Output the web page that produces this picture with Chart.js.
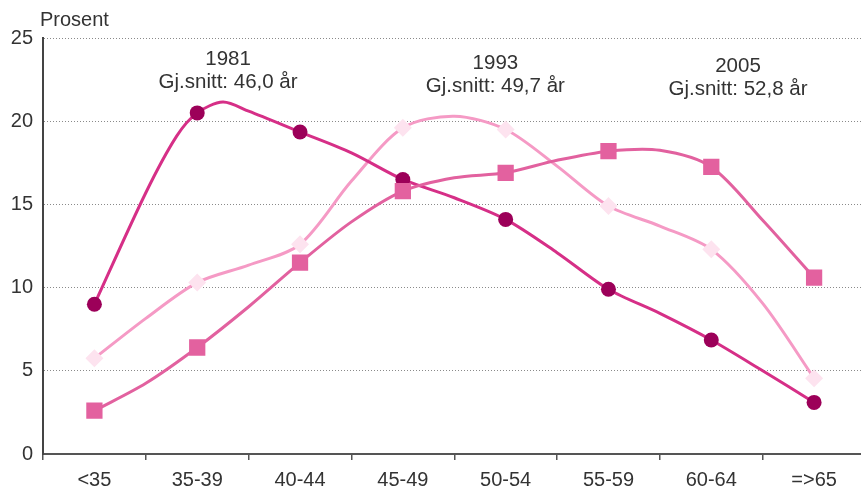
<!DOCTYPE html>
<html>
<head>
<meta charset="utf-8">
<script src="https://cdn.jsdelivr.net/npm/chart.js@4.4.1/dist/chart.umd.min.js"></script>
<style>
    html, body { margin: 0; padding: 0; overflow: hidden; background: #fff; }
    .chart-box { width: 877px; height: 490px; }
</style>
</head>
<body>
<div class="chart-box"><canvas id="ageChart"></canvas></div>
<script>
const categories = ['<35', '35-39', '40-44', '45-49', '50-54', '55-59', '60-64', '=>65']

// values at the age groups (the markers)
const marks1981 = [9.0, 20.5, 19.35, 16.5, 14.1, 9.9, 6.85, 3.1]
const marks1993 = [5.75, 10.3, 12.6, 19.6, 19.5, 14.9, 12.3, 4.55]
const marks2005 = [2.6, 6.4, 11.5, 15.8, 16.9, 18.2, 17.25, 10.6]

// the finer curves (x = position in age groups)
const trace1981X = [0, 0.5, 0.8, 1, 1.25, 1.5, 2, 2.5, 3, 3.5, 4, 4.5, 5, 5.5, 6, 6.5, 7]
const trace1981 = [9.0, 15.7, 19.1, 20.5, 21.15, 20.6, 19.35, 18.1, 16.5, 15.4, 14.1, 12.1, 9.9, 8.45, 6.85, 5.0, 3.1]
const traceX = [0, 0.5, 1, 1.5, 2, 2.5, 3, 3.5, 4, 4.5, 5, 5.5, 6, 6.5, 7]
const trace1993 = [5.75, 8.15, 10.3, 11.35, 12.6, 16.4, 19.6, 20.3, 19.5, 17.3, 14.9, 13.7, 12.3, 9.05, 4.55]
const trace2005 = [2.6, 4.25, 6.4, 8.85, 11.5, 13.95, 15.8, 16.6, 16.9, 17.65, 18.2, 18.25, 17.25, 14.05, 10.6]

const yearLabels = ['1981', '1993', '2005']
const meanLabels = ['Gj.snitt: 46,0 år', 'Gj.snitt: 49,7 år', 'Gj.snitt: 52,8 år']

const FONT = '"Liberation Sans", Arial, sans-serif'
const TEXT = '#333333'

function toPoints(xs, ys) {
    return xs.map(function (x, i) { return { x: x, y: ys[i] } })
}

const textPlugin = {
    id: 'textPlugin',
    afterDraw: function (chart) {
        const ctx = chart.ctx
        const xs = chart.scales.x2
        const ys = chart.scales.y
        const anchors = [[1.3, 23.7], [3.9, 23.5], [6.26, 23.3]]
        ctx.save()
        ctx.fillStyle = TEXT
        ctx.font = '20px ' + FONT
        ctx.textBaseline = 'middle'
        ctx.textAlign = 'left'
        ctx.fillText('Prosent', 40, 20)
        ctx.textAlign = 'center'
        ctx.font = '20.5px ' + FONT
        anchors.forEach(function (a, i) {
            const px = xs.getPixelForValue(a[0])
            const py = ys.getPixelForValue(a[1])
            ctx.fillText(yearLabels[i], px, py)
            ctx.fillText(meanLabels[i], px, py + 23)
        })
        ctx.restore()
    }
}

const lineStyle = function (color, order) {
    return {
        type: 'line',
        xAxisID: 'x2',
        borderColor: color,
        borderWidth: 3,
        pointRadius: 0,
        tension: 0.3,
        fill: false,
        order: order
    }
}

const markStyle = function (color, shape, radius, order) {
    return {
        type: 'line',
        xAxisID: 'x',
        showLine: false,
        pointStyle: shape,
        pointRadius: radius,
        pointBackgroundColor: color,
        pointBorderColor: color,
        pointBorderWidth: 0,
        order: order
    }
}

new Chart(document.getElementById('ageChart'), {
    data: {
        labels: categories,
        datasets: [
            Object.assign(markStyle('#e3619f', 'rect', 11.5, 0), { label: '2005', data: marks2005 }),
            Object.assign(markStyle('#fde3ef', 'rectRot', 9, 1), { label: '1993', data: marks1993 }),
            Object.assign(markStyle('#9c0059', 'circle', 7.5, 2), { label: '1981', data: marks1981 }),
            Object.assign(lineStyle('#e2619f', 3), { label: '2005 line', data: toPoints(traceX, trace2005) }),
            Object.assign(lineStyle('#d62f87', 4), { label: '1981 line', data: toPoints(trace1981X, trace1981) }),
            Object.assign(lineStyle('#f59ac5', 5), { label: '1993 line', data: toPoints(traceX, trace1993) })
        ]
    },
    options: {
        responsive: true,
        maintainAspectRatio: false,
        animation: false,
        layout: { padding: { top: 38, left: 0, right: 0, bottom: 0 } },
        plugins: {
            legend: { display: false },
            tooltip: { enabled: false }
        },
        scales: {
            x: {
                type: 'category',
                offset: true,
                grid: { offset: true, drawOnChartArea: false, color: '#555', lineWidth: 1.5, tickLength: 6 },
                border: { color: '#555', width: 2 },
                ticks: { color: TEXT, font: { family: FONT, size: 20 }, padding: 8, maxRotation: 0 },
                afterFit: function (scale) { scale.height = 36 }
            },
            x2: {
                type: 'linear',
                min: -0.5,
                max: 7.5,
                display: false
            },
            y: {
                min: 0,
                max: 25,
                ticks: { stepSize: 5, color: TEXT, font: { family: FONT, size: 20 }, padding: 10 },
                grid: { color: '#8a8a8a', lineWidth: 1, drawTicks: false },
                border: { color: '#444', width: 2, dash: [1, 2] },
                afterFit: function (scale) { scale.width = 43 }
            }
        }
    },
    plugins: [textPlugin]
});
</script>
</body>
</html>
